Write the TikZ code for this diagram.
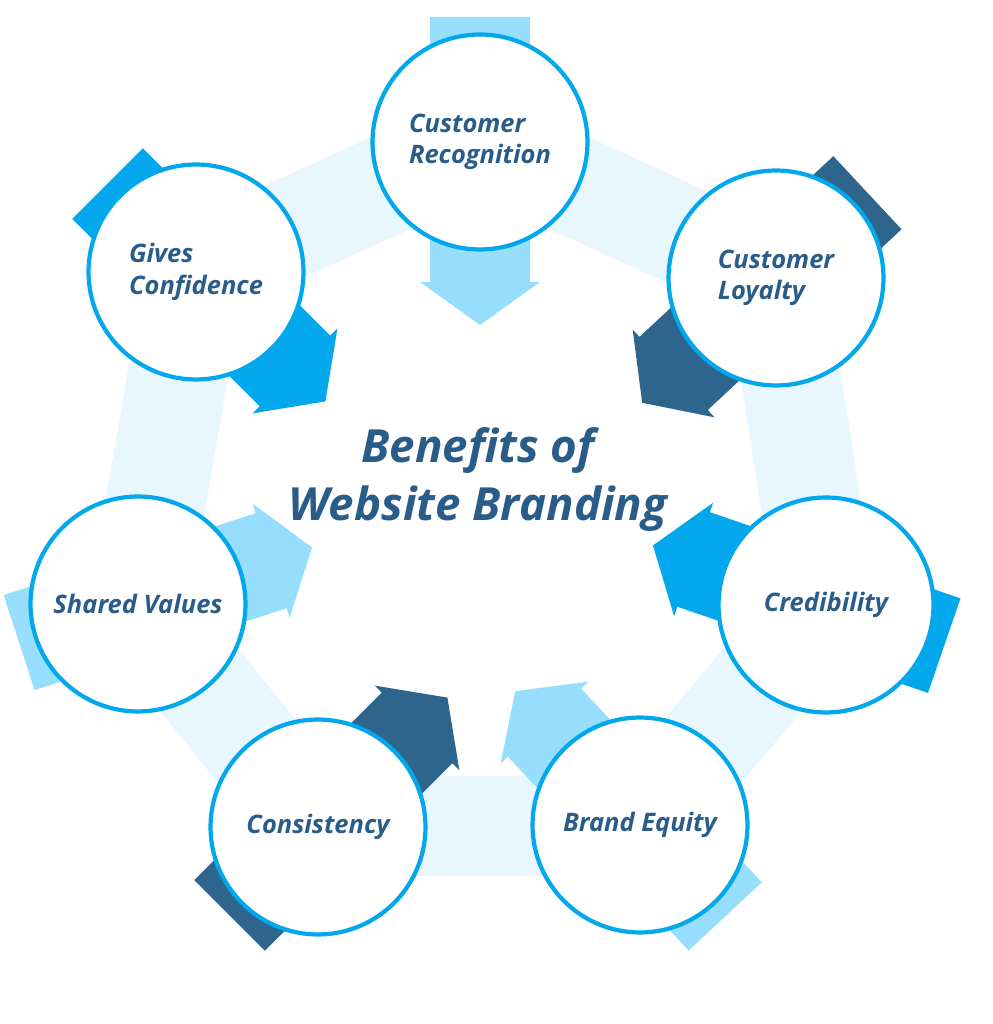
\documentclass[tikz,border=0pt]{standalone}
\usepackage{fontspec}
\setmainfont{Open Sans}
\definecolor{ringA}{RGB}{232, 246, 254}
\definecolor{lightA}{RGB}{150, 222, 252}
\definecolor{midA}{RGB}{2, 167, 236}
\definecolor{darkA}{RGB}{45, 101, 140}
\definecolor{textA}{RGB}{42, 92, 138}
\tikzset{
  benefit/.style={circle, draw=midA, line width=2.4pt, fill=white, minimum size=4.3cm, inner sep=0pt,
    text=textA, font=\bfseries\itshape\fontsize{14.5}{18}\selectfont, align=left},
  band/.style={line width=2cm, color=ringA, line join=round},
}
\begin{document}
\begin{tikzpicture}[x=0.02cm, y=0.02cm]
  \useasboundingbox (0,0) rectangle (993,1024);
  \coordinate (cr) at (480,882);
  \coordinate (cl) at (776,746);
  \coordinate (cd) at (826,419);
  \coordinate (be) at (640,199);
  \coordinate (cs) at (318,197);
  \coordinate (sv) at (138,420);
  \coordinate (gc) at (196,752);

  \draw[band] (cr) -- (cl) -- (cd) -- (be) -- (cs) -- (sv) -- (gc) -- cycle;

  % arrows through the circles
  \foreach \c/\ang/\col in {cr/270/lightA, cl/223/darkA, cd/161/midA, be/133/lightA,
                            cs/45/darkA, sv/18/lightA, gc/315/midA} {
    \fill[\col, shift={(\c)}, rotate=\ang]
      (-125,-50) -- (140,-50) -- (140,-60) -- (183,0) -- (140,60) -- (140,50) -- (-125,50) -- cycle;
  }

  \node[benefit] (ncr) at (cr) {Customer\\Recognition};
  \node[benefit] (ncl) at (cl) {Customer\\Loyalty};
  \node[benefit] (ncd) at (cd) {Credibility};
  \node[benefit] (nbe) at (be) {Brand Equity};
  \node[benefit] (ncs) at (cs) {Consistency};
  \node[benefit] (nsv) at (sv) {Shared Values};
  \node[benefit] (ngc) at (gc) {Gives\\Confidence};

  \node[text=textA, font=\bfseries\itshape\fontsize{26}{33}\selectfont, align=center] (title) at (478,544)
    {Benefits of\\Website Branding};
\end{tikzpicture}
\end{document}
